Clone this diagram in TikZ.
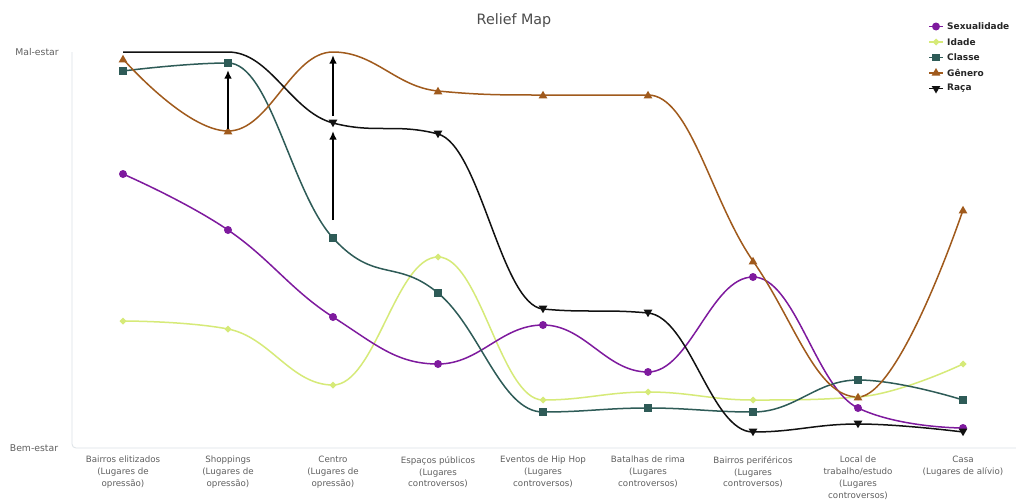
\documentclass[tikz,border=0pt]{standalone}
\usepackage{fontspec}
\setmainfont{DejaVu Sans}
\usetikzlibrary{shapes.geometric,arrows.meta}
\definecolor{csex}{HTML}{7E1A9E}
\definecolor{cida}{HTML}{D6EA78}
\definecolor{ccla}{HTML}{2E5B57}
\definecolor{cgen}{HTML}{A05A1C}
\definecolor{craca}{HTML}{111111}
\definecolor{axgray}{HTML}{DCE2E6}
\definecolor{txgray}{HTML}{606060}
\tikzset{
  series/.style={line width=1.5pt},
  mk/.style={inner sep=0pt, outer sep=0pt, draw=none},
  circ/.style={mk, circle, minimum size=8pt},
  sq/.style={mk, rectangle, minimum size=7.5pt},
  dia/.style={mk, diamond, minimum size=7pt},
  tup/.style={mk, regular polygon, regular polygon sides=3, minimum size=10pt},
  tdn/.style={tup, shape border rotate=180},
  xlab/.style={font=\fontsize{8.7}{11.9}\selectfont, text=txgray, align=center, anchor=north, inner sep=0pt},
  ylab/.style={font=\fontsize{9.3}{11}\selectfont, text=txgray, inner sep=0pt},
  legtext/.style={font=\bfseries\fontsize{9}{11}\selectfont, text=black!85, anchor=west, inner sep=0pt},
  legline/.style={line width=1.6pt},
  uparrow/.style={line width=1.7pt, -{Latex[length=8.5pt,width=7.5pt]}}
}
\begin{document}
\begin{tikzpicture}[x=1pt,y=-1pt]
\useasboundingbox (0,0) rectangle (1016,501);
\fill[white] (0,0) rectangle (1016,501);
% frame
\draw[axgray, line width=0.8pt, rounded corners=4pt] (72,52) -- (72,448) -- (1016,448);
% title
\node[font=\fontsize{14.3}{17}\selectfont, text=black!70, inner sep=0pt] (title) at (514,21) {Relief Map};
% y labels
\node[ylab] (mal) at (37,52) {Mal-estar};
\node[ylab] (bem) at (34,448) {Bem-estar};
% x labels
\node[xlab] (x1) at (123,456) {Bairros elitizados\\(Lugares de\\opressão)};
\node[xlab] (x2) at (228,456) {Shoppings\\(Lugares de\\opressão)};
\node[xlab] (x3) at (333,456) {Centro\\(Lugares de\\opressão)};
\node[xlab] (x4) at (438,456) {Espaços públicos\\(Lugares\\controversos)};
\node[xlab] (x5) at (543,456) {Eventos de Hip Hop\\(Lugares\\controversos)};
\node[xlab] (x6) at (648,456) {Batalhas de rima\\(Lugares\\controversos)};
\node[xlab] (x7) at (753,456) {Bairros periféricos\\(Lugares\\controversos)};
\node[xlab] (x8) at (858,456) {Local de\\trabalho/estudo\\(Lugares\\controversos)};
\node[xlab] (x9) at (963,456) {Casa\\(Lugares de alívio)};

% Idade
\draw[series, cida] (123,321) .. controls (123,321) and (186,321) .. (228,329)
 .. controls (270,337) and (291,385) .. (333,385)
 .. controls (375,385) and (396,257) .. (438,257)
 .. controls (480,257) and (501,400) .. (543,400)
 .. controls (585,400) and (606,392) .. (648,392)
 .. controls (690,392) and (711,400) .. (753,400)
 .. controls (795,400) and (816,400) .. (858,397)
 .. controls (900,394) and (963,364) .. (963,364);
% Sexualidade
\draw[series, csex] (123,174) .. controls (123,174) and (186,201.4) .. (228,230)
 .. controls (270,258.6) and (291,290.2) .. (333,317)
 .. controls (375,343.8) and (396,364) .. (438,364)
 .. controls (480,364) and (501,325) .. (543,325)
 .. controls (585,325) and (606,372) .. (648,372)
 .. controls (690,372) and (711,277) .. (753,277)
 .. controls (795,277) and (816,388) .. (858,408)
 .. controls (900,428) and (963,428) .. (963,428);
% Classe
\draw[series, ccla] (123,71) .. controls (123,71) and (186,63) .. (228,63)
 .. controls (270,63) and (291,192) .. (333,238)
 .. controls (375,284) and (396,258.2) .. (438,293)
 .. controls (480,327.8) and (501,412) .. (543,412)
 .. controls (585,412) and (606,408) .. (648,408)
 .. controls (690,408) and (711,412) .. (753,412)
 .. controls (795,412) and (816,380) .. (858,380)
 .. controls (900,380) and (963,400) .. (963,400);
% Genero
\draw[series, cgen] (123,59) .. controls (123,59) and (186,131) .. (228,131)
 .. controls (270,131) and (291,52) .. (333,52)
 .. controls (375,52) and (396,87) .. (438,91)
 .. controls (480,95) and (501,95) .. (543,95)
 .. controls (585,95) and (606,95) .. (648,95)
 .. controls (690,95) and (711,200.6) .. (753,261)
 .. controls (795,321.4) and (816,397) .. (858,397)
 .. controls (900,397) and (963,210) .. (963,210);
% Raca
\draw[series, craca] (123,52) .. controls (123,52) and (186,52) .. (228,52)
 .. controls (270,52) and (291,112) .. (333,123)
 .. controls (375,134) and (396,123) .. (438,134)
 .. controls (480,145) and (501,305) .. (543,309)
 .. controls (585,313) and (606,309) .. (648,313)
 .. controls (690,317) and (711,432) .. (753,432)
 .. controls (795,432) and (816,424) .. (858,424)
 .. controls (900,424) and (963,432) .. (963,432);

% markers Idade
\foreach \x/\y [count=\i] in {123/321,228/329,333/385,438/257,543/400,648/392,753/400,858/397,963/364}
  \node[dia, fill=cida] (i\i) at (\x,\y) {};
% markers Sexualidade
\foreach \x/\y [count=\i] in {123/174,228/230,333/317,438/364,543/325,648/372,753/277,858/408,963/428}
  \node[circ, fill=csex] (s\i) at (\x,\y) {};
% markers Classe
\foreach \x/\y [count=\i] in {123/71,228/63,333/238,438/293,543/412,648/408,753/412,858/380,963/400}
  \node[sq, fill=ccla] (c\i) at (\x,\y) {};
% markers Genero
\foreach \x/\y [count=\i] in {123/59,228/131,438/91,543/95,648/95,753/261,858/397,963/210}
  \node[tup, fill=cgen] (g\i) at (\x,\y+0.8) {};
% markers Raca
\foreach \x/\y [count=\i] in {333/123,438/134,543/309,648/313,753/432,858/424,963/432}
  \node[tdn, fill=craca] (r\i) at (\x,\y-0.8) {};

% arrows
\coordinate (a1s) at (228,129);
\coordinate (a1e) at (228,70);
\coordinate (a2s) at (333,116);
\coordinate (a2e) at (333,55);
\coordinate (a3s) at (333,220);
\coordinate (a3e) at (333,131);
\draw[uparrow] (a1s) -- (a1e);
\draw[uparrow] (a2s) -- (a2e);
\draw[uparrow] (a3s) -- (a3e);

% legend
\foreach \n/\col/\shape/\lab [count=\k] in {
  ls/csex/circ/Sexualidade,
  li/cida/dia/Idade,
  lc/ccla/sq/Classe,
  lg/cgen/tup/Gênero,
  lr/craca/tdn/Raça}{
  \pgfmathsetmacro{\ly}{26.5+15.5*(\k-1)}
  \coordinate (\n a) at (929,\ly);
  \coordinate (\n b) at (943,\ly);
  \draw[legline, \col] (\n a) -- (\n b);
  \node[\shape, fill=\col] (\n m) at (936,\ly) {};
  \node[legtext] (\n t) at (947,\ly) {\lab};
}
\end{tikzpicture}
\end{document}
